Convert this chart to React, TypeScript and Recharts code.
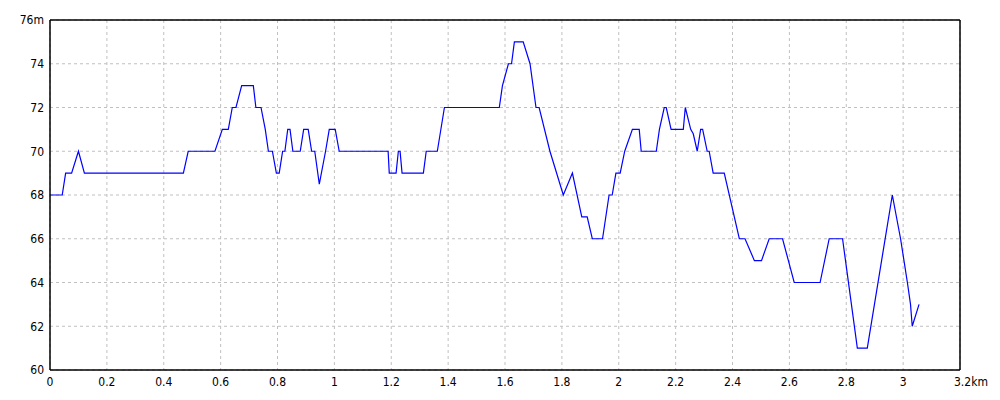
import React from 'react';
import { LineChart, Line, XAxis, YAxis, CartesianGrid, ReferenceLine } from 'recharts';

const distanceKm = [
  0, 0.043, 0.055, 0.076, 0.1, 0.121, 0.469, 0.486, 0.58, 0.606, 0.627, 0.641, 0.654, 0.674, 0.715,
  0.724, 0.742, 0.757, 0.768, 0.782, 0.796, 0.806, 0.818, 0.826, 0.836, 0.844, 0.854, 0.88, 0.892,
  0.908, 0.92, 0.931, 0.947, 0.969, 0.982, 1.003, 1.017, 1.189, 1.193, 1.217, 1.225, 1.231, 1.238,
  1.313, 1.323, 1.362, 1.387, 1.58, 1.591, 1.612, 1.623, 1.633, 1.664, 1.688, 1.709, 1.72, 1.758,
  1.805, 1.837, 1.87, 1.889, 1.907, 1.943, 1.966, 1.977, 1.99, 2.005, 2.021, 2.048, 2.072, 2.079,
  2.132, 2.143, 2.16, 2.167, 2.184, 2.227, 2.234, 2.253, 2.262, 2.276, 2.288, 2.295, 2.311, 2.318,
  2.332, 2.371, 2.424, 2.444, 2.477, 2.502, 2.529, 2.576, 2.617, 2.708, 2.74, 2.787, 2.839, 2.874,
  2.962, 2.991, 3.015, 3.026, 3.032, 3.056,
];

const elevationM = [
  68, 68, 69, 69, 70, 69, 69, 70, 70, 71, 71, 72, 72, 73, 73,
  72, 72, 71, 70, 70, 69, 69, 70, 70, 71, 71, 70, 70, 71,
  71, 70, 70, 68.5, 70, 71, 71, 70, 70, 69, 69, 70, 70, 69,
  69, 70, 70, 72, 72, 73, 74, 74, 75, 75, 74, 72, 72, 70,
  68, 69, 67, 67, 66, 66, 68, 68, 69, 69, 70, 71, 71, 70,
  70, 71, 72, 72, 71, 71, 72, 71, 70.8, 70, 71, 71, 70, 70,
  69, 69, 66, 66, 65, 65, 66, 66, 64, 64, 66, 66, 61, 61,
  68, 66, 64, 63, 62, 63,
];

const xTicks = [0, 0.2, 0.4, 0.6, 0.8, 1, 1.2, 1.4, 1.6, 1.8, 2, 2.2, 2.4, 2.6, 2.8, 3, 3.2];
const yTicks = [60, 62, 64, 66, 68, 70, 72, 74, 76];
const xUnit = 'km';
const yUnit = 'm';

const data = distanceKm.map((d, i) => ({ d, e: elevationM[i] }));

const FONT = "'Liberation Sans Narrow', 'DejaVu Sans Condensed', sans-serif";

const XTick = (props: any) => {
  const { x, y, payload } = props;
  const v = payload.value;
  const last = v === xTicks[xTicks.length - 1];
  const label = String(v);
  if (last) {
    return (
      <text x={x - 6} y={y} dy="0.71em" textAnchor="start" fontFamily={FONT} fontSize={12} fill="#000">
        {label + xUnit}
      </text>
    );
  }
  return (
    <text x={x} y={y} dy="0.71em" textAnchor="middle" fontFamily={FONT} fontSize={12} fill="#000">
      {label}
    </text>
  );
};

const YTick = (props: any) => {
  const { x, y, payload } = props;
  const v = payload.value;
  const last = v === yTicks[yTicks.length - 1];
  return (
    <text x={x} y={y} dy="0.355em" textAnchor="end" fontFamily={FONT} fontSize={12} fill="#000">
      {last ? String(v) + yUnit : String(v)}
    </text>
  );
};

export default function App() {
  return (
    <div style={{ width: 984, height: 384, background: '#fff' }}>
      <LineChart width={984} height={384} data={data} margin={{ top: 12, right: 32, bottom: 0, left: 0 }}>
        <CartesianGrid stroke="#c0c0c0" strokeDasharray="3 3" />
        <XAxis
          dataKey="d"
          type="number"
          domain={[0, 3.2]}
          ticks={xTicks}
          interval={0}
          height={22}
          tickSize={0}
          tickMargin={7}
          axisLine={{ stroke: '#000', strokeWidth: 1.5 }}
          tickLine={false}
          tick={<XTick />}
          allowDataOverflow
        />
        <YAxis
          type="number"
          domain={[60, 76]}
          ticks={yTicks}
          interval={0}
          width={42}
          tickSize={0}
          tickMargin={6}
          axisLine={{ stroke: '#000', strokeWidth: 1.5 }}
          tickLine={false}
          tick={<YTick />}
          allowDataOverflow
        />
        <ReferenceLine y={76} stroke="#000" strokeWidth={1.5} />
        <ReferenceLine x={3.2} stroke="#000" strokeWidth={1.5} />
        <Line
          type="linear"
          dataKey="e"
          stroke="#0000ff"
          strokeWidth={1.2}
          dot={false}
          isAnimationActive={false}
        />
      </LineChart>
    </div>
  );
}
